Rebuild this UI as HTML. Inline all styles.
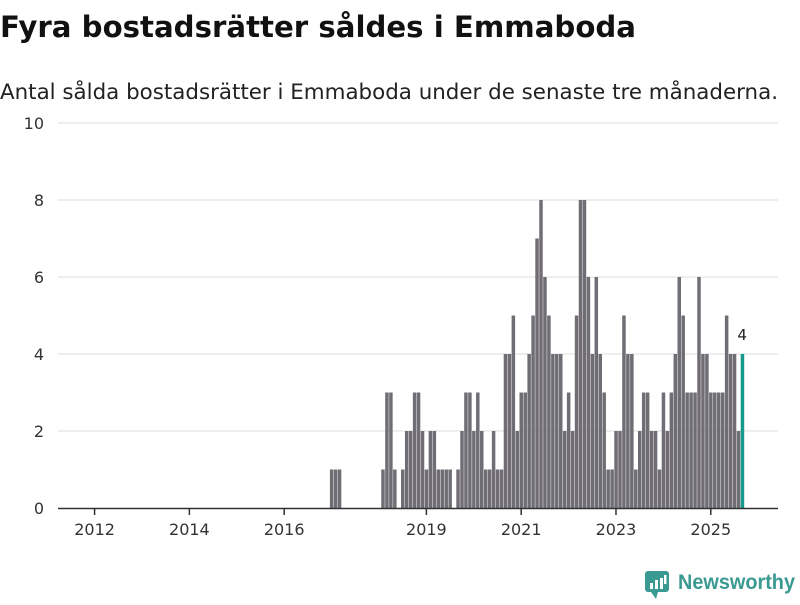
<!DOCTYPE html>
<html><head><meta charset="utf-8"><style>
body{margin:0;background:#fff;width:800px;height:600px;overflow:hidden;font-family:"Liberation Sans","DejaVu Sans",sans-serif}
</style></head><body>
<svg width="800" height="600" viewBox="0 0 800 600" xmlns="http://www.w3.org/2000/svg">
<text x="0" y="37" font-size="29.3" font-weight="bold" fill="#111" font-family="DejaVu Sans, sans-serif" textLength="636" lengthAdjust="spacingAndGlyphs">Fyra bostadsrätter såldes i Emmaboda</text>
<text x="0" y="99" font-size="21.3" fill="#222" font-family="DejaVu Sans, sans-serif" textLength="778" lengthAdjust="spacingAndGlyphs">Antal sålda bostadsrätter i Emmaboda under de senaste tre månaderna.</text>
<g id="grid"></g>
<g id="bars"></g>
<g id="axes"></g>
<g>
<rect x="645" y="571" width="24" height="21" rx="3" fill="#3a9a91"/>
<path d="M651 592 L656 599 L658 592 Z" fill="#3a9a91"/>
<rect x="650" y="583" width="3" height="6" fill="#fff"/>
<rect x="655" y="580" width="3" height="9" fill="#fff"/>
<rect x="660" y="578" width="3" height="11" fill="#fff"/>
<rect x="664" y="575" width="2.5" height="9" fill="#fff"/>
<text x="678" y="589" font-size="21" font-weight="bold" fill="#3a9a91" font-family="Liberation Sans, sans-serif" textLength="117" lengthAdjust="spacingAndGlyphs">Newsworthy</text>
</g>
</svg>
<script>
const startMonth = [59,72,91,103];
const seriesA = [1,1,1, 0,0,0,0,0,0,0,0,0,0,0];
const seriesB = [1,3,3,1,0,1,2,2,3,3,2,1,2,2,1,1,1,1,0];
const seriesC = [1,2,3,3,2,3,2,1,1,2,1,1];
const seriesD = [4,4,5,2,3,3,4,5,7,8,6,5,4,4,4,2,3,2,5,8,8,6,4,6,4,3,1,1,2,2,5,4,4,1,2,3,3,2,2,1,3,2,3,4,6,5,3,3,3,6,4,4,3,3,3,3,5,4,4,2,4];
const yTicks = [0,2,4,6,8,10];
const xTickYears = [2012,2014,2016,2019,2021,2023,2025];
const lastLabel = "4";

const NS='http://www.w3.org/2000/svg';
const x0=96.85, bw=3.95, y0=508, yPx=38.5;
const xs = m => x0 + m*bw;
const ys = v => y0 - v*yPx;
function mk(t,a,p){const e=document.createElementNS(NS,t);for(const k in a)e.setAttribute(k,a[k]);p.appendChild(e);return e;}
const grid=document.getElementById('grid'), bars=document.getElementById('bars'), axes=document.getElementById('axes');
yTicks.forEach(v=>{
  if(v>0){const l=mk('line',{x1:58,x2:778,y1:ys(v),y2:ys(v),stroke:'#dedede','stroke-width':1},grid);
  
  }
  const t=mk('text',{x:44,y:ys(v)+6,'text-anchor':'end','font-size':16,fill:'#333','font-family':'DejaVu Sans, sans-serif'},axes);
  t.textContent=v;
  
  
});
const all=[seriesA,seriesB,seriesC,seriesD];
let data=[];
all.forEach((s,i)=>s.forEach((v,j)=>data.push([startMonth[i]+j,v])));
data=data.filter(d=>d[1]>0);
const lastM=startMonth[3]+seriesD.length-1;
data.forEach(([m,v])=>{
  const r=mk('rect',{x:xs(m),y:ys(v),width:bw-0.45,height:v*yPx,fill:m===lastM?'#16998d':'#706e74'},bars);
  
  
});
const lastV=seriesD[seriesD.length-1];
const lt=mk('text',{x:xs(lastM)+1.5,y:ys(lastV)-14,'text-anchor':'middle','font-size':15,fill:'#222','font-family':'DejaVu Sans, sans-serif'},bars);
lt.textContent=lastLabel;


const ax=mk('line',{x1:58,x2:778,y1:508.5,y2:508.5,stroke:'#333','stroke-width':1.5},axes);


xTickYears.forEach(y=>{
  const x=xs((y-2012)*12-0.7)+0.5;
  const tk=mk('line',{x1:x,x2:x,y1:508,y2:515,stroke:'#333','stroke-width':1.5},axes);
  
  
  const t=mk('text',{x:x,y:535,'text-anchor':'middle','font-size':16,fill:'#333','font-family':'DejaVu Sans, sans-serif'},axes);
  t.textContent=y;
  
  
});
</script>
</body></html>
